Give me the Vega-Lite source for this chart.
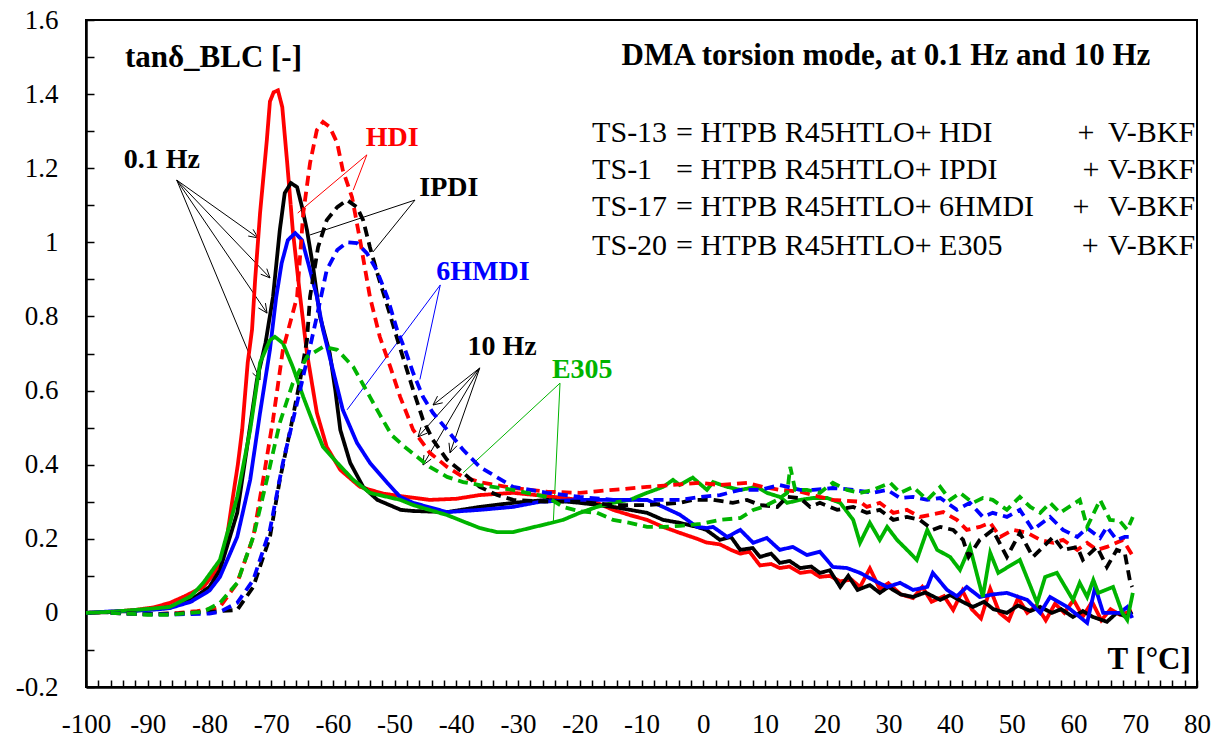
{
"$schema": "https://vega.github.io/schema/vega-lite/v6.json",
"width": 1111, "height": 667,
"autosize": {"type": "none"},
"padding": {"left": 86, "top": 20, "right": 28, "bottom": 58},
"background": "white",
"config": {"view": {"stroke": "black", "strokeWidth": 2}, "font": "Liberation Serif"},
"datasets": {
"curves": [
{"c":"HDI","f":"0.1 Hz","T":-100,"v":0},{"c":"HDI","f":"0.1 Hz","T":-96,"v":0.003},{"c":"HDI","f":"0.1 Hz","T":-92,"v":0.008},{"c":"HDI","f":"0.1 Hz","T":-89,"v":0.015},{"c":"HDI","f":"0.1 Hz","T":-86.4,"v":0.027},{"c":"HDI","f":"0.1 Hz","T":-84,"v":0.045},{"c":"HDI","f":"0.1 Hz","T":-81,"v":0.07},{"c":"HDI","f":"0.1 Hz","T":-79.5,"v":0.1},{"c":"HDI","f":"0.1 Hz","T":-78.3,"v":0.135},{"c":"HDI","f":"0.1 Hz","T":-77.2,"v":0.2},{"c":"HDI","f":"0.1 Hz","T":-76.2,"v":0.313},{"c":"HDI","f":"0.1 Hz","T":-75.4,"v":0.4},{"c":"HDI","f":"0.1 Hz","T":-74.7,"v":0.494},{"c":"HDI","f":"0.1 Hz","T":-73.8,"v":0.675},{"c":"HDI","f":"0.1 Hz","T":-73.1,"v":0.764},{"c":"HDI","f":"0.1 Hz","T":-72.6,"v":0.898},{"c":"HDI","f":"0.1 Hz","T":-71.8,"v":1.079},{"c":"HDI","f":"0.1 Hz","T":-70.7,"v":1.276},{"c":"HDI","f":"0.1 Hz","T":-70.2,"v":1.38},{"c":"HDI","f":"0.1 Hz","T":-69.6,"v":1.405},{"c":"HDI","f":"0.1 Hz","T":-68.9,"v":1.41},{"c":"HDI","f":"0.1 Hz","T":-68.2,"v":1.365},{"c":"HDI","f":"0.1 Hz","T":-67.4,"v":1.214},{"c":"HDI","f":"0.1 Hz","T":-66.5,"v":1.033},{"c":"HDI","f":"0.1 Hz","T":-65.3,"v":0.853},{"c":"HDI","f":"0.1 Hz","T":-64.2,"v":0.701},{"c":"HDI","f":"0.1 Hz","T":-62.6,"v":0.54},{"c":"HDI","f":"0.1 Hz","T":-61,"v":0.448},{"c":"HDI","f":"0.1 Hz","T":-58.8,"v":0.386},{"c":"HDI","f":"0.1 Hz","T":-55.6,"v":0.34},{"c":"HDI","f":"0.1 Hz","T":-51.9,"v":0.322},{"c":"HDI","f":"0.1 Hz","T":-49,"v":0.315},{"c":"HDI","f":"0.1 Hz","T":-44.3,"v":0.305},{"c":"HDI","f":"0.1 Hz","T":-40,"v":0.308},{"c":"HDI","f":"0.1 Hz","T":-36.2,"v":0.318},{"c":"HDI","f":"0.1 Hz","T":-30.8,"v":0.324},{"c":"HDI","f":"0.1 Hz","T":-25.3,"v":0.315},{"c":"HDI","f":"0.1 Hz","T":-20,"v":0.305},{"c":"HDI","f":"0.1 Hz","T":-17.2,"v":0.297},{"c":"HDI","f":"0.1 Hz","T":-14.6,"v":0.278},{"c":"HDI","f":"0.1 Hz","T":-11.9,"v":0.264},{"c":"HDI","f":"0.1 Hz","T":-9.1,"v":0.251},{"c":"HDI","f":"0.1 Hz","T":-6.5,"v":0.232},{"c":"HDI","f":"0.1 Hz","T":-3.8,"v":0.216},{"c":"HDI","f":"0.1 Hz","T":-1,"v":0.2},{"c":"HDI","f":"0.1 Hz","T":0.5,"v":0.19},{"c":"HDI","f":"0.1 Hz","T":2.7,"v":0.185},{"c":"HDI","f":"0.1 Hz","T":4.5,"v":0.17},{"c":"HDI","f":"0.1 Hz","T":6,"v":0.16},{"c":"HDI","f":"0.1 Hz","T":7.5,"v":0.165},{"c":"HDI","f":"0.1 Hz","T":9.2,"v":0.128},{"c":"HDI","f":"0.1 Hz","T":11,"v":0.132},{"c":"HDI","f":"0.1 Hz","T":12.4,"v":0.121},{"c":"HDI","f":"0.1 Hz","T":14,"v":0.125},{"c":"HDI","f":"0.1 Hz","T":15.7,"v":0.108},{"c":"HDI","f":"0.1 Hz","T":17.5,"v":0.112},{"c":"HDI","f":"0.1 Hz","T":18.9,"v":0.097},{"c":"HDI","f":"0.1 Hz","T":20.5,"v":0.1},{"c":"HDI","f":"0.1 Hz","T":22.2,"v":0.085},{"c":"HDI","f":"0.1 Hz","T":24,"v":0.09},{"c":"HDI","f":"0.1 Hz","T":25.4,"v":0.07},{"c":"HDI","f":"0.1 Hz","T":27,"v":0.12},{"c":"HDI","f":"0.1 Hz","T":28.6,"v":0.065},{"c":"HDI","f":"0.1 Hz","T":30,"v":0.08},{"c":"HDI","f":"0.1 Hz","T":32,"v":0.05},{"c":"HDI","f":"0.1 Hz","T":34,"v":0.04},{"c":"HDI","f":"0.1 Hz","T":35.5,"v":0.07},{"c":"HDI","f":"0.1 Hz","T":37,"v":0.03},{"c":"HDI","f":"0.1 Hz","T":39,"v":0.045},{"c":"HDI","f":"0.1 Hz","T":40.5,"v":0.008},{"c":"HDI","f":"0.1 Hz","T":42,"v":0.06},{"c":"HDI","f":"0.1 Hz","T":43.5,"v":0.01},{"c":"HDI","f":"0.1 Hz","T":45,"v":-0.015},{"c":"HDI","f":"0.1 Hz","T":46.5,"v":0.065},{"c":"HDI","f":"0.1 Hz","T":48,"v":0},{"c":"HDI","f":"0.1 Hz","T":49.5,"v":-0.02},{"c":"HDI","f":"0.1 Hz","T":51,"v":0.04},{"c":"HDI","f":"0.1 Hz","T":52.5,"v":0},{"c":"HDI","f":"0.1 Hz","T":54,"v":0.02},{"c":"HDI","f":"0.1 Hz","T":55.5,"v":-0.02},{"c":"HDI","f":"0.1 Hz","T":57,"v":0.025},{"c":"HDI","f":"0.1 Hz","T":58.5,"v":0},{"c":"HDI","f":"0.1 Hz","T":60,"v":0.035},{"c":"HDI","f":"0.1 Hz","T":61.5,"v":-0.01},{"c":"HDI","f":"0.1 Hz","T":63,"v":0.03},{"c":"HDI","f":"0.1 Hz","T":64.5,"v":-0.02},{"c":"HDI","f":"0.1 Hz","T":66,"v":0.01},{"c":"HDI","f":"0.1 Hz","T":67.5,"v":-0.005},{"c":"HDI","f":"0.1 Hz","T":69.5,"v":0.005},

{"c":"IPDI","f":"0.1 Hz","T":-100,"v":0},{"c":"IPDI","f":"0.1 Hz","T":-96,"v":0.002},{"c":"IPDI","f":"0.1 Hz","T":-92,"v":0.006},{"c":"IPDI","f":"0.1 Hz","T":-89,"v":0.01},{"c":"IPDI","f":"0.1 Hz","T":-86.4,"v":0.016},{"c":"IPDI","f":"0.1 Hz","T":-83,"v":0.035},{"c":"IPDI","f":"0.1 Hz","T":-80,"v":0.07},{"c":"IPDI","f":"0.1 Hz","T":-78.3,"v":0.116},{"c":"IPDI","f":"0.1 Hz","T":-75.5,"v":0.27},{"c":"IPDI","f":"0.1 Hz","T":-73.9,"v":0.448},{"c":"IPDI","f":"0.1 Hz","T":-72.3,"v":0.629},{"c":"IPDI","f":"0.1 Hz","T":-70.9,"v":0.73},{"c":"IPDI","f":"0.1 Hz","T":-69.7,"v":0.853},{"c":"IPDI","f":"0.1 Hz","T":-68.6,"v":1.033},{"c":"IPDI","f":"0.1 Hz","T":-67.8,"v":1.133},{"c":"IPDI","f":"0.1 Hz","T":-66.8,"v":1.16},{"c":"IPDI","f":"0.1 Hz","T":-65.8,"v":1.149},{"c":"IPDI","f":"0.1 Hz","T":-65,"v":1.095},{"c":"IPDI","f":"0.1 Hz","T":-64.2,"v":1.033},{"c":"IPDI","f":"0.1 Hz","T":-63.2,"v":0.933},{"c":"IPDI","f":"0.1 Hz","T":-62.1,"v":0.8},{"c":"IPDI","f":"0.1 Hz","T":-60.5,"v":0.7},{"c":"IPDI","f":"0.1 Hz","T":-59.6,"v":0.6},{"c":"IPDI","f":"0.1 Hz","T":-58.8,"v":0.494},{"c":"IPDI","f":"0.1 Hz","T":-57.2,"v":0.405},{"c":"IPDI","f":"0.1 Hz","T":-55.1,"v":0.34},{"c":"IPDI","f":"0.1 Hz","T":-52.8,"v":0.305},{"c":"IPDI","f":"0.1 Hz","T":-49,"v":0.278},{"c":"IPDI","f":"0.1 Hz","T":-47,"v":0.275},{"c":"IPDI","f":"0.1 Hz","T":-41.5,"v":0.272},{"c":"IPDI","f":"0.1 Hz","T":-36.2,"v":0.286},{"c":"IPDI","f":"0.1 Hz","T":-30.8,"v":0.297},{"c":"IPDI","f":"0.1 Hz","T":-25.3,"v":0.305},{"c":"IPDI","f":"0.1 Hz","T":-20,"v":0.297},{"c":"IPDI","f":"0.1 Hz","T":-14.6,"v":0.286},{"c":"IPDI","f":"0.1 Hz","T":-9.1,"v":0.27},{"c":"IPDI","f":"0.1 Hz","T":-6.5,"v":0.251},{"c":"IPDI","f":"0.1 Hz","T":-3.8,"v":0.243},{"c":"IPDI","f":"0.1 Hz","T":-1,"v":0.232},{"c":"IPDI","f":"0.1 Hz","T":0.5,"v":0.224},{"c":"IPDI","f":"0.1 Hz","T":2.7,"v":0.197},{"c":"IPDI","f":"0.1 Hz","T":4.5,"v":0.205},{"c":"IPDI","f":"0.1 Hz","T":6,"v":0.17},{"c":"IPDI","f":"0.1 Hz","T":8,"v":0.175},{"c":"IPDI","f":"0.1 Hz","T":9.2,"v":0.151},{"c":"IPDI","f":"0.1 Hz","T":11,"v":0.16},{"c":"IPDI","f":"0.1 Hz","T":12.4,"v":0.135},{"c":"IPDI","f":"0.1 Hz","T":14,"v":0.14},{"c":"IPDI","f":"0.1 Hz","T":15.7,"v":0.121},{"c":"IPDI","f":"0.1 Hz","T":17.5,"v":0.125},{"c":"IPDI","f":"0.1 Hz","T":18.9,"v":0.108},{"c":"IPDI","f":"0.1 Hz","T":20.5,"v":0.115},{"c":"IPDI","f":"0.1 Hz","T":22.2,"v":0.07},{"c":"IPDI","f":"0.1 Hz","T":23.5,"v":0.1},{"c":"IPDI","f":"0.1 Hz","T":25,"v":0.062},{"c":"IPDI","f":"0.1 Hz","T":27,"v":0.075},{"c":"IPDI","f":"0.1 Hz","T":28.6,"v":0.054},{"c":"IPDI","f":"0.1 Hz","T":30,"v":0.07},{"c":"IPDI","f":"0.1 Hz","T":32,"v":0.05},{"c":"IPDI","f":"0.1 Hz","T":34,"v":0.043},{"c":"IPDI","f":"0.1 Hz","T":36,"v":0.055},{"c":"IPDI","f":"0.1 Hz","T":38.4,"v":0.035},{"c":"IPDI","f":"0.1 Hz","T":40,"v":0.048},{"c":"IPDI","f":"0.1 Hz","T":42,"v":0.03},{"c":"IPDI","f":"0.1 Hz","T":43.7,"v":0.016},{"c":"IPDI","f":"0.1 Hz","T":45.5,"v":0.03},{"c":"IPDI","f":"0.1 Hz","T":47,"v":0.01},{"c":"IPDI","f":"0.1 Hz","T":49.2,"v":0},{"c":"IPDI","f":"0.1 Hz","T":51,"v":0.02},{"c":"IPDI","f":"0.1 Hz","T":53,"v":0.005},{"c":"IPDI","f":"0.1 Hz","T":54.6,"v":0.016},{"c":"IPDI","f":"0.1 Hz","T":56.5,"v":0},{"c":"IPDI","f":"0.1 Hz","T":58,"v":0.01},{"c":"IPDI","f":"0.1 Hz","T":59.9,"v":-0.011},{"c":"IPDI","f":"0.1 Hz","T":61.5,"v":0.005},{"c":"IPDI","f":"0.1 Hz","T":63,"v":-0.01},{"c":"IPDI","f":"0.1 Hz","T":65.4,"v":-0.024},{"c":"IPDI","f":"0.1 Hz","T":67,"v":0},{"c":"IPDI","f":"0.1 Hz","T":68.5,"v":-0.01},{"c":"IPDI","f":"0.1 Hz","T":69.5,"v":0.003},

{"c":"6HMDI","f":"0.1 Hz","T":-100,"v":0},{"c":"6HMDI","f":"0.1 Hz","T":-96,"v":0.004},{"c":"6HMDI","f":"0.1 Hz","T":-92,"v":0.006},{"c":"6HMDI","f":"0.1 Hz","T":-88,"v":0.01},{"c":"6HMDI","f":"0.1 Hz","T":-86.4,"v":0.013},{"c":"6HMDI","f":"0.1 Hz","T":-83,"v":0.03},{"c":"6HMDI","f":"0.1 Hz","T":-80,"v":0.06},{"c":"6HMDI","f":"0.1 Hz","T":-78.3,"v":0.097},{"c":"6HMDI","f":"0.1 Hz","T":-75.5,"v":0.205},{"c":"6HMDI","f":"0.1 Hz","T":-73.4,"v":0.359},{"c":"6HMDI","f":"0.1 Hz","T":-71.8,"v":0.54},{"c":"6HMDI","f":"0.1 Hz","T":-70.2,"v":0.71},{"c":"6HMDI","f":"0.1 Hz","T":-69.2,"v":0.85},{"c":"6HMDI","f":"0.1 Hz","T":-68.3,"v":0.944},{"c":"6HMDI","f":"0.1 Hz","T":-67.3,"v":1.006},{"c":"6HMDI","f":"0.1 Hz","T":-66.1,"v":1.025},{"c":"6HMDI","f":"0.1 Hz","T":-65,"v":1.006},{"c":"6HMDI","f":"0.1 Hz","T":-64,"v":0.944},{"c":"6HMDI","f":"0.1 Hz","T":-62.6,"v":0.853},{"c":"6HMDI","f":"0.1 Hz","T":-61.6,"v":0.764},{"c":"6HMDI","f":"0.1 Hz","T":-60,"v":0.656},{"c":"6HMDI","f":"0.1 Hz","T":-58.4,"v":0.548},{"c":"6HMDI","f":"0.1 Hz","T":-56.1,"v":0.459},{"c":"6HMDI","f":"0.1 Hz","T":-54,"v":0.405},{"c":"6HMDI","f":"0.1 Hz","T":-51.2,"v":0.351},{"c":"6HMDI","f":"0.1 Hz","T":-49.1,"v":0.313},{"c":"6HMDI","f":"0.1 Hz","T":-47,"v":0.297},{"c":"6HMDI","f":"0.1 Hz","T":-41.5,"v":0.272},{"c":"6HMDI","f":"0.1 Hz","T":-36.2,"v":0.278},{"c":"6HMDI","f":"0.1 Hz","T":-30.8,"v":0.286},{"c":"6HMDI","f":"0.1 Hz","T":-26.4,"v":0.3},{"c":"6HMDI","f":"0.1 Hz","T":-20,"v":0.305},{"c":"6HMDI","f":"0.1 Hz","T":-14.6,"v":0.305},{"c":"6HMDI","f":"0.1 Hz","T":-9.1,"v":0.305},{"c":"6HMDI","f":"0.1 Hz","T":-6.5,"v":0.286},{"c":"6HMDI","f":"0.1 Hz","T":-3.8,"v":0.265},{"c":"6HMDI","f":"0.1 Hz","T":-1,"v":0.232},{"c":"6HMDI","f":"0.1 Hz","T":0.6,"v":0.229},{"c":"6HMDI","f":"0.1 Hz","T":1.6,"v":0.232},{"c":"6HMDI","f":"0.1 Hz","T":3.9,"v":0.205},{"c":"6HMDI","f":"0.1 Hz","T":6,"v":0.224},{"c":"6HMDI","f":"0.1 Hz","T":8.1,"v":0.189},{"c":"6HMDI","f":"0.1 Hz","T":10.3,"v":0.202},{"c":"6HMDI","f":"0.1 Hz","T":12.4,"v":0.17},{"c":"6HMDI","f":"0.1 Hz","T":14.5,"v":0.178},{"c":"6HMDI","f":"0.1 Hz","T":16.8,"v":0.156},{"c":"6HMDI","f":"0.1 Hz","T":18.9,"v":0.165},{"c":"6HMDI","f":"0.1 Hz","T":21,"v":0.124},{"c":"6HMDI","f":"0.1 Hz","T":23.3,"v":0.121},{"c":"6HMDI","f":"0.1 Hz","T":25.4,"v":0.108},{"c":"6HMDI","f":"0.1 Hz","T":27.5,"v":0.089},{"c":"6HMDI","f":"0.1 Hz","T":29.8,"v":0.07},{"c":"6HMDI","f":"0.1 Hz","T":31.9,"v":0.081},{"c":"6HMDI","f":"0.1 Hz","T":34,"v":0.062},{"c":"6HMDI","f":"0.1 Hz","T":36.3,"v":0.07},{"c":"6HMDI","f":"0.1 Hz","T":37.2,"v":0.108},{"c":"6HMDI","f":"0.1 Hz","T":39.5,"v":0.062},{"c":"6HMDI","f":"0.1 Hz","T":41.1,"v":0.045},{"c":"6HMDI","f":"0.1 Hz","T":42.7,"v":0.07},{"c":"6HMDI","f":"0.1 Hz","T":44.8,"v":0.043},{"c":"6HMDI","f":"0.1 Hz","T":47,"v":0.05},{"c":"6HMDI","f":"0.1 Hz","T":49.2,"v":0.054},{"c":"6HMDI","f":"0.1 Hz","T":52.5,"v":0.035},{"c":"6HMDI","f":"0.1 Hz","T":54.6,"v":0},{"c":"6HMDI","f":"0.1 Hz","T":56.2,"v":0.043},{"c":"6HMDI","f":"0.1 Hz","T":59,"v":0.016},{"c":"6HMDI","f":"0.1 Hz","T":62.2,"v":-0.027},{"c":"6HMDI","f":"0.1 Hz","T":63.5,"v":0.07},{"c":"6HMDI","f":"0.1 Hz","T":64.8,"v":0},{"c":"6HMDI","f":"0.1 Hz","T":67.5,"v":0},{"c":"6HMDI","f":"0.1 Hz","T":68.7,"v":0.016},{"c":"6HMDI","f":"0.1 Hz","T":69.5,"v":-0.014},

{"c":"E305","f":"0.1 Hz","T":-100,"v":0},{"c":"E305","f":"0.1 Hz","T":-96,"v":0.003},{"c":"E305","f":"0.1 Hz","T":-92,"v":0.008},{"c":"E305","f":"0.1 Hz","T":-89,"v":0.012},{"c":"E305","f":"0.1 Hz","T":-86.4,"v":0.016},{"c":"E305","f":"0.1 Hz","T":-83,"v":0.045},{"c":"E305","f":"0.1 Hz","T":-81,"v":0.081},{"c":"E305","f":"0.1 Hz","T":-78.3,"v":0.143},{"c":"E305","f":"0.1 Hz","T":-75.5,"v":0.313},{"c":"E305","f":"0.1 Hz","T":-73.4,"v":0.494},{"c":"E305","f":"0.1 Hz","T":-71.8,"v":0.675},{"c":"E305","f":"0.1 Hz","T":-70.2,"v":0.736},{"c":"E305","f":"0.1 Hz","T":-69.4,"v":0.745},{"c":"E305","f":"0.1 Hz","T":-68.1,"v":0.728},{"c":"E305","f":"0.1 Hz","T":-66.5,"v":0.664},{"c":"E305","f":"0.1 Hz","T":-64.8,"v":0.583},{"c":"E305","f":"0.1 Hz","T":-63.2,"v":0.513},{"c":"E305","f":"0.1 Hz","T":-61.6,"v":0.448},{"c":"E305","f":"0.1 Hz","T":-59.3,"v":0.405},{"c":"E305","f":"0.1 Hz","T":-56.7,"v":0.359},{"c":"E305","f":"0.1 Hz","T":-54,"v":0.324},{"c":"E305","f":"0.1 Hz","T":-49.1,"v":0.305},{"c":"E305","f":"0.1 Hz","T":-47,"v":0.291},{"c":"E305","f":"0.1 Hz","T":-41.5,"v":0.264},{"c":"E305","f":"0.1 Hz","T":-36.2,"v":0.229},{"c":"E305","f":"0.1 Hz","T":-33.4,"v":0.218},{"c":"E305","f":"0.1 Hz","T":-30.8,"v":0.218},{"c":"E305","f":"0.1 Hz","T":-28.1,"v":0.229},{"c":"E305","f":"0.1 Hz","T":-25.3,"v":0.24},{"c":"E305","f":"0.1 Hz","T":-22.7,"v":0.251},{"c":"E305","f":"0.1 Hz","T":-20,"v":0.27},{"c":"E305","f":"0.1 Hz","T":-17.2,"v":0.286},{"c":"E305","f":"0.1 Hz","T":-14.6,"v":0.297},{"c":"E305","f":"0.1 Hz","T":-11.9,"v":0.305},{"c":"E305","f":"0.1 Hz","T":-9.1,"v":0.324},{"c":"E305","f":"0.1 Hz","T":-6.5,"v":0.34},{"c":"E305","f":"0.1 Hz","T":-4.9,"v":0.359},{"c":"E305","f":"0.1 Hz","T":-3.8,"v":0.345},{"c":"E305","f":"0.1 Hz","T":-1.7,"v":0.365},{"c":"E305","f":"0.1 Hz","T":0.6,"v":0.332},{"c":"E305","f":"0.1 Hz","T":1.6,"v":0.353},{"c":"E305","f":"0.1 Hz","T":3.9,"v":0.34},{"c":"E305","f":"0.1 Hz","T":6,"v":0.332},{"c":"E305","f":"0.1 Hz","T":8.7,"v":0.34},{"c":"E305","f":"0.1 Hz","T":10.3,"v":0.324},{"c":"E305","f":"0.1 Hz","T":12.4,"v":0.313},{"c":"E305","f":"0.1 Hz","T":13.6,"v":0.297},{"c":"E305","f":"0.1 Hz","T":15.7,"v":0.305},{"c":"E305","f":"0.1 Hz","T":17.8,"v":0.31},{"c":"E305","f":"0.1 Hz","T":20.1,"v":0.31},{"c":"E305","f":"0.1 Hz","T":22.2,"v":0.297},{"c":"E305","f":"0.1 Hz","T":24.3,"v":0.251},{"c":"E305","f":"0.1 Hz","T":25.4,"v":0.189},{"c":"E305","f":"0.1 Hz","T":27,"v":0.243},{"c":"E305","f":"0.1 Hz","T":28.6,"v":0.197},{"c":"E305","f":"0.1 Hz","T":29.8,"v":0.232},{"c":"E305","f":"0.1 Hz","T":31.4,"v":0.197},{"c":"E305","f":"0.1 Hz","T":33.5,"v":0.162},{"c":"E305","f":"0.1 Hz","T":34.6,"v":0.143},{"c":"E305","f":"0.1 Hz","T":36.3,"v":0.224},{"c":"E305","f":"0.1 Hz","T":37.9,"v":0.17},{"c":"E305","f":"0.1 Hz","T":40,"v":0.151},{"c":"E305","f":"0.1 Hz","T":41.6,"v":0.116},{"c":"E305","f":"0.1 Hz","T":43.2,"v":0.178},{"c":"E305","f":"0.1 Hz","T":45.3,"v":0.043},{"c":"E305","f":"0.1 Hz","T":46.5,"v":0.162},{"c":"E305","f":"0.1 Hz","T":47.8,"v":0.108},{"c":"E305","f":"0.1 Hz","T":51.3,"v":0.143},{"c":"E305","f":"0.1 Hz","T":54.1,"v":0.027},{"c":"E305","f":"0.1 Hz","T":55.4,"v":0.097},{"c":"E305","f":"0.1 Hz","T":57.3,"v":0.108},{"c":"E305","f":"0.1 Hz","T":59.9,"v":0.035},{"c":"E305","f":"0.1 Hz","T":61,"v":0.081},{"c":"E305","f":"0.1 Hz","T":62.2,"v":0.043},{"c":"E305","f":"0.1 Hz","T":63.2,"v":0.089},{"c":"E305","f":"0.1 Hz","T":64,"v":0.054},{"c":"E305","f":"0.1 Hz","T":66.4,"v":0.07},{"c":"E305","f":"0.1 Hz","T":67.9,"v":0},{"c":"E305","f":"0.1 Hz","T":68.7,"v":-0.019},{"c":"E305","f":"0.1 Hz","T":69.6,"v":0.054},

{"c":"HDI","f":"10 Hz","T":-96,"v":0},{"c":"HDI","f":"10 Hz","T":-92,"v":-0.003},{"c":"HDI","f":"10 Hz","T":-88,"v":-0.003},{"c":"HDI","f":"10 Hz","T":-85,"v":0},{"c":"HDI","f":"10 Hz","T":-82,"v":0.005},{"c":"HDI","f":"10 Hz","T":-80,"v":0.01},{"c":"HDI","f":"10 Hz","T":-78.3,"v":0.016},{"c":"HDI","f":"10 Hz","T":-75.5,"v":0.081},{"c":"HDI","f":"10 Hz","T":-72.9,"v":0.205},{"c":"HDI","f":"10 Hz","T":-71.3,"v":0.359},{"c":"HDI","f":"10 Hz","T":-69.7,"v":0.521},{"c":"HDI","f":"10 Hz","T":-68.1,"v":0.71},{"c":"HDI","f":"10 Hz","T":-65.8,"v":0.853},{"c":"HDI","f":"10 Hz","T":-64.8,"v":1.079},{"c":"HDI","f":"10 Hz","T":-63.7,"v":1.214},{"c":"HDI","f":"10 Hz","T":-62.6,"v":1.303},{"c":"HDI","f":"10 Hz","T":-61.6,"v":1.325},{"c":"HDI","f":"10 Hz","T":-60.5,"v":1.311},{"c":"HDI","f":"10 Hz","T":-59.3,"v":1.268},{"c":"HDI","f":"10 Hz","T":-58.4,"v":1.195},{"c":"HDI","f":"10 Hz","T":-56.9,"v":1.122},{"c":"HDI","f":"10 Hz","T":-55.6,"v":1.006},{"c":"HDI","f":"10 Hz","T":-54,"v":0.853},{"c":"HDI","f":"10 Hz","T":-52.4,"v":0.745},{"c":"HDI","f":"10 Hz","T":-50.7,"v":0.664},{"c":"HDI","f":"10 Hz","T":-49.1,"v":0.583},{"c":"HDI","f":"10 Hz","T":-47,"v":0.494},{"c":"HDI","f":"10 Hz","T":-44.3,"v":0.432},{"c":"HDI","f":"10 Hz","T":-41.5,"v":0.394},{"c":"HDI","f":"10 Hz","T":-38.9,"v":0.367},{"c":"HDI","f":"10 Hz","T":-36.2,"v":0.353},{"c":"HDI","f":"10 Hz","T":-30.8,"v":0.337},{"c":"HDI","f":"10 Hz","T":-25.3,"v":0.327},{"c":"HDI","f":"10 Hz","T":-20,"v":0.324},{"c":"HDI","f":"10 Hz","T":-14.6,"v":0.332},{"c":"HDI","f":"10 Hz","T":-9.1,"v":0.34},{"c":"HDI","f":"10 Hz","T":-3.8,"v":0.347},{"c":"HDI","f":"10 Hz","T":-0.5,"v":0.351},{"c":"HDI","f":"10 Hz","T":2.7,"v":0.345},{"c":"HDI","f":"10 Hz","T":7.1,"v":0.351},{"c":"HDI","f":"10 Hz","T":9.7,"v":0.34},{"c":"HDI","f":"10 Hz","T":12.4,"v":0.332},{"c":"HDI","f":"10 Hz","T":15.7,"v":0.327},{"c":"HDI","f":"10 Hz","T":18.9,"v":0.313},{"c":"HDI","f":"10 Hz","T":21,"v":0.305},{"c":"HDI","f":"10 Hz","T":25.4,"v":0.3},{"c":"HDI","f":"10 Hz","T":26.5,"v":0.286},{"c":"HDI","f":"10 Hz","T":28.6,"v":0.297},{"c":"HDI","f":"10 Hz","T":30.8,"v":0.27},{"c":"HDI","f":"10 Hz","T":33,"v":0.278},{"c":"HDI","f":"10 Hz","T":35.1,"v":0.259},{"c":"HDI","f":"10 Hz","T":38.9,"v":0.272},{"c":"HDI","f":"10 Hz","T":41.1,"v":0.251},{"c":"HDI","f":"10 Hz","T":42.7,"v":0.224},{"c":"HDI","f":"10 Hz","T":44.8,"v":0.232},{"c":"HDI","f":"10 Hz","T":46.5,"v":0.243},{"c":"HDI","f":"10 Hz","T":48.1,"v":0.205},{"c":"HDI","f":"10 Hz","T":50.2,"v":0.224},{"c":"HDI","f":"10 Hz","T":52.5,"v":0.216},{"c":"HDI","f":"10 Hz","T":54.6,"v":0.197},{"c":"HDI","f":"10 Hz","T":56.7,"v":0.189},{"c":"HDI","f":"10 Hz","T":58.3,"v":0.197},{"c":"HDI","f":"10 Hz","T":60.6,"v":0.17},{"c":"HDI","f":"10 Hz","T":62.2,"v":0.189},{"c":"HDI","f":"10 Hz","T":63.8,"v":0.17},{"c":"HDI","f":"10 Hz","T":65.4,"v":0.178},{"c":"HDI","f":"10 Hz","T":68,"v":0.197},{"c":"HDI","f":"10 Hz","T":69.5,"v":0.156},

{"c":"IPDI","f":"10 Hz","T":-96,"v":0},{"c":"IPDI","f":"10 Hz","T":-90,"v":-0.003},{"c":"IPDI","f":"10 Hz","T":-85,"v":-0.002},{"c":"IPDI","f":"10 Hz","T":-80,"v":0.003},{"c":"IPDI","f":"10 Hz","T":-75.5,"v":0.008},{"c":"IPDI","f":"10 Hz","T":-72.9,"v":0.07},{"c":"IPDI","f":"10 Hz","T":-70.2,"v":0.205},{"c":"IPDI","f":"10 Hz","T":-68.6,"v":0.359},{"c":"IPDI","f":"10 Hz","T":-66.9,"v":0.494},{"c":"IPDI","f":"10 Hz","T":-65.3,"v":0.629},{"c":"IPDI","f":"10 Hz","T":-64.2,"v":0.736},{"c":"IPDI","f":"10 Hz","T":-63.7,"v":0.853},{"c":"IPDI","f":"10 Hz","T":-62.4,"v":0.987},{"c":"IPDI","f":"10 Hz","T":-61,"v":1.06},{"c":"IPDI","f":"10 Hz","T":-59.3,"v":1.095},{"c":"IPDI","f":"10 Hz","T":-57.7,"v":1.114},{"c":"IPDI","f":"10 Hz","T":-56.1,"v":1.095},{"c":"IPDI","f":"10 Hz","T":-55.1,"v":1.06},{"c":"IPDI","f":"10 Hz","T":-54,"v":0.987},{"c":"IPDI","f":"10 Hz","T":-52.6,"v":0.905},{"c":"IPDI","f":"10 Hz","T":-51.2,"v":0.83},{"c":"IPDI","f":"10 Hz","T":-49.4,"v":0.73},{"c":"IPDI","f":"10 Hz","T":-47,"v":0.602},{"c":"IPDI","f":"10 Hz","T":-45.4,"v":0.521},{"c":"IPDI","f":"10 Hz","T":-43.8,"v":0.467},{"c":"IPDI","f":"10 Hz","T":-41.5,"v":0.413},{"c":"IPDI","f":"10 Hz","T":-38.9,"v":0.378},{"c":"IPDI","f":"10 Hz","T":-36.2,"v":0.34},{"c":"IPDI","f":"10 Hz","T":-33.4,"v":0.318},{"c":"IPDI","f":"10 Hz","T":-30.8,"v":0.305},{"c":"IPDI","f":"10 Hz","T":-25.3,"v":0.3},{"c":"IPDI","f":"10 Hz","T":-20,"v":0.3},{"c":"IPDI","f":"10 Hz","T":-14.6,"v":0.291},{"c":"IPDI","f":"10 Hz","T":-9.1,"v":0.291},{"c":"IPDI","f":"10 Hz","T":-3.8,"v":0.297},{"c":"IPDI","f":"10 Hz","T":-1.7,"v":0.305},{"c":"IPDI","f":"10 Hz","T":1.6,"v":0.305},{"c":"IPDI","f":"10 Hz","T":4.8,"v":0.297},{"c":"IPDI","f":"10 Hz","T":7.1,"v":0.305},{"c":"IPDI","f":"10 Hz","T":9.2,"v":0.291},{"c":"IPDI","f":"10 Hz","T":12,"v":0.286},{"c":"IPDI","f":"10 Hz","T":13.6,"v":0.313},{"c":"IPDI","f":"10 Hz","T":15.7,"v":0.31},{"c":"IPDI","f":"10 Hz","T":17.3,"v":0.286},{"c":"IPDI","f":"10 Hz","T":18.9,"v":0.297},{"c":"IPDI","f":"10 Hz","T":21.7,"v":0.278},{"c":"IPDI","f":"10 Hz","T":24.3,"v":0.286},{"c":"IPDI","f":"10 Hz","T":26.5,"v":0.27},{"c":"IPDI","f":"10 Hz","T":28.6,"v":0.278},{"c":"IPDI","f":"10 Hz","T":30.8,"v":0.251},{"c":"IPDI","f":"10 Hz","T":33,"v":0.259},{"c":"IPDI","f":"10 Hz","T":35.1,"v":0.251},{"c":"IPDI","f":"10 Hz","T":37.2,"v":0.224},{"c":"IPDI","f":"10 Hz","T":38.4,"v":0.232},{"c":"IPDI","f":"10 Hz","T":40.5,"v":0.224},{"c":"IPDI","f":"10 Hz","T":42.1,"v":0.197},{"c":"IPDI","f":"10 Hz","T":43,"v":0.151},{"c":"IPDI","f":"10 Hz","T":44.8,"v":0.197},{"c":"IPDI","f":"10 Hz","T":46.9,"v":0.224},{"c":"IPDI","f":"10 Hz","T":49.2,"v":0.151},{"c":"IPDI","f":"10 Hz","T":51.3,"v":0.216},{"c":"IPDI","f":"10 Hz","T":53.4,"v":0.151},{"c":"IPDI","f":"10 Hz","T":56.7,"v":0.205},{"c":"IPDI","f":"10 Hz","T":58.3,"v":0.17},{"c":"IPDI","f":"10 Hz","T":60.6,"v":0.178},{"c":"IPDI","f":"10 Hz","T":61.5,"v":0.143},{"c":"IPDI","f":"10 Hz","T":63.8,"v":0.178},{"c":"IPDI","f":"10 Hz","T":65.4,"v":0.124},{"c":"IPDI","f":"10 Hz","T":67,"v":0.17},{"c":"IPDI","f":"10 Hz","T":68.3,"v":0.162},{"c":"IPDI","f":"10 Hz","T":69.2,"v":0.081},{"c":"IPDI","f":"10 Hz","T":69.5,"v":0.07},

{"c":"6HMDI","f":"10 Hz","T":-96,"v":0},{"c":"6HMDI","f":"10 Hz","T":-90,"v":-0.004},{"c":"6HMDI","f":"10 Hz","T":-85,"v":-0.004},{"c":"6HMDI","f":"10 Hz","T":-80,"v":-0.002},{"c":"6HMDI","f":"10 Hz","T":-78.3,"v":0.003},{"c":"6HMDI","f":"10 Hz","T":-75.5,"v":0.027},{"c":"6HMDI","f":"10 Hz","T":-72.9,"v":0.089},{"c":"6HMDI","f":"10 Hz","T":-70.2,"v":0.224},{"c":"6HMDI","f":"10 Hz","T":-68.1,"v":0.405},{"c":"6HMDI","f":"10 Hz","T":-65.8,"v":0.567},{"c":"6HMDI","f":"10 Hz","T":-63.7,"v":0.718},{"c":"6HMDI","f":"10 Hz","T":-62.6,"v":0.8},{"c":"6HMDI","f":"10 Hz","T":-61,"v":0.925},{"c":"6HMDI","f":"10 Hz","T":-59.3,"v":0.979},{"c":"6HMDI","f":"10 Hz","T":-57.7,"v":1},{"c":"6HMDI","f":"10 Hz","T":-56.1,"v":0.998},{"c":"6HMDI","f":"10 Hz","T":-54.5,"v":0.971},{"c":"6HMDI","f":"10 Hz","T":-52.9,"v":0.925},{"c":"6HMDI","f":"10 Hz","T":-51.2,"v":0.853},{"c":"6HMDI","f":"10 Hz","T":-49.6,"v":0.764},{"c":"6HMDI","f":"10 Hz","T":-48.3,"v":0.71},{"c":"6HMDI","f":"10 Hz","T":-47,"v":0.648},{"c":"6HMDI","f":"10 Hz","T":-45.4,"v":0.583},{"c":"6HMDI","f":"10 Hz","T":-43.8,"v":0.54},{"c":"6HMDI","f":"10 Hz","T":-41.5,"v":0.494},{"c":"6HMDI","f":"10 Hz","T":-38.9,"v":0.44},{"c":"6HMDI","f":"10 Hz","T":-36.2,"v":0.394},{"c":"6HMDI","f":"10 Hz","T":-30.8,"v":0.34},{"c":"6HMDI","f":"10 Hz","T":-25.3,"v":0.324},{"c":"6HMDI","f":"10 Hz","T":-20,"v":0.313},{"c":"6HMDI","f":"10 Hz","T":-14.6,"v":0.305},{"c":"6HMDI","f":"10 Hz","T":-9.1,"v":0.305},{"c":"6HMDI","f":"10 Hz","T":-3.8,"v":0.305},{"c":"6HMDI","f":"10 Hz","T":-0.5,"v":0.313},{"c":"6HMDI","f":"10 Hz","T":2.7,"v":0.318},{"c":"6HMDI","f":"10 Hz","T":6,"v":0.332},{"c":"6HMDI","f":"10 Hz","T":9.2,"v":0.332},{"c":"6HMDI","f":"10 Hz","T":12.4,"v":0.345},{"c":"6HMDI","f":"10 Hz","T":15.7,"v":0.332},{"c":"6HMDI","f":"10 Hz","T":17.8,"v":0.332},{"c":"6HMDI","f":"10 Hz","T":21,"v":0.337},{"c":"6HMDI","f":"10 Hz","T":24.3,"v":0.332},{"c":"6HMDI","f":"10 Hz","T":27.5,"v":0.324},{"c":"6HMDI","f":"10 Hz","T":29.8,"v":0.332},{"c":"6HMDI","f":"10 Hz","T":31.9,"v":0.31},{"c":"6HMDI","f":"10 Hz","T":34,"v":0.313},{"c":"6HMDI","f":"10 Hz","T":36.3,"v":0.305},{"c":"6HMDI","f":"10 Hz","T":38.4,"v":0.31},{"c":"6HMDI","f":"10 Hz","T":41.1,"v":0.278},{"c":"6HMDI","f":"10 Hz","T":43.2,"v":0.297},{"c":"6HMDI","f":"10 Hz","T":45.3,"v":0.259},{"c":"6HMDI","f":"10 Hz","T":46.9,"v":0.27},{"c":"6HMDI","f":"10 Hz","T":49.2,"v":0.259},{"c":"6HMDI","f":"10 Hz","T":51.3,"v":0.278},{"c":"6HMDI","f":"10 Hz","T":53.4,"v":0.224},{"c":"6HMDI","f":"10 Hz","T":56.2,"v":0.259},{"c":"6HMDI","f":"10 Hz","T":58.3,"v":0.224},{"c":"6HMDI","f":"10 Hz","T":60.6,"v":0.205},{"c":"6HMDI","f":"10 Hz","T":62.2,"v":0.229},{"c":"6HMDI","f":"10 Hz","T":64.3,"v":0.202},{"c":"6HMDI","f":"10 Hz","T":65.4,"v":0.232},{"c":"6HMDI","f":"10 Hz","T":67,"v":0.197},{"c":"6HMDI","f":"10 Hz","T":68.3,"v":0.205},{"c":"6HMDI","f":"10 Hz","T":69.5,"v":0.205},

{"c":"E305","f":"10 Hz","T":-96,"v":0},{"c":"E305","f":"10 Hz","T":-90,"v":-0.005},{"c":"E305","f":"10 Hz","T":-86.4,"v":-0.005},{"c":"E305","f":"10 Hz","T":-81,"v":0.003},{"c":"E305","f":"10 Hz","T":-78.3,"v":0.027},{"c":"E305","f":"10 Hz","T":-75.5,"v":0.081},{"c":"E305","f":"10 Hz","T":-72.9,"v":0.205},{"c":"E305","f":"10 Hz","T":-70.7,"v":0.359},{"c":"E305","f":"10 Hz","T":-68.6,"v":0.513},{"c":"E305","f":"10 Hz","T":-66.5,"v":0.62},{"c":"E305","f":"10 Hz","T":-64.2,"v":0.691},{"c":"E305","f":"10 Hz","T":-61.6,"v":0.718},{"c":"E305","f":"10 Hz","T":-59.3,"v":0.71},{"c":"E305","f":"10 Hz","T":-56.7,"v":0.664},{"c":"E305","f":"10 Hz","T":-54,"v":0.583},{"c":"E305","f":"10 Hz","T":-52.4,"v":0.535},{"c":"E305","f":"10 Hz","T":-50.5,"v":0.48},{"c":"E305","f":"10 Hz","T":-48.5,"v":0.45},{"c":"E305","f":"10 Hz","T":-47,"v":0.43},{"c":"E305","f":"10 Hz","T":-44.3,"v":0.394},{"c":"E305","f":"10 Hz","T":-41.5,"v":0.367},{"c":"E305","f":"10 Hz","T":-38.9,"v":0.353},{"c":"E305","f":"10 Hz","T":-36.2,"v":0.345},{"c":"E305","f":"10 Hz","T":-30.8,"v":0.332},{"c":"E305","f":"10 Hz","T":-25.3,"v":0.313},{"c":"E305","f":"10 Hz","T":-22.7,"v":0.286},{"c":"E305","f":"10 Hz","T":-20,"v":0.274},{"c":"E305","f":"10 Hz","T":-17.2,"v":0.27},{"c":"E305","f":"10 Hz","T":-14.6,"v":0.251},{"c":"E305","f":"10 Hz","T":-11.9,"v":0.243},{"c":"E305","f":"10 Hz","T":-9.1,"v":0.232},{"c":"E305","f":"10 Hz","T":-6.5,"v":0.232},{"c":"E305","f":"10 Hz","T":-3.8,"v":0.235},{"c":"E305","f":"10 Hz","T":-0.5,"v":0.24},{"c":"E305","f":"10 Hz","T":2.7,"v":0.251},{"c":"E305","f":"10 Hz","T":6,"v":0.256},{"c":"E305","f":"10 Hz","T":8.1,"v":0.278},{"c":"E305","f":"10 Hz","T":9.7,"v":0.286},{"c":"E305","f":"10 Hz","T":12,"v":0.305},{"c":"E305","f":"10 Hz","T":13.6,"v":0.324},{"c":"E305","f":"10 Hz","T":14.1,"v":0.394},{"c":"E305","f":"10 Hz","T":14.9,"v":0.332},{"c":"E305","f":"10 Hz","T":16.8,"v":0.332},{"c":"E305","f":"10 Hz","T":18.9,"v":0.324},{"c":"E305","f":"10 Hz","T":21,"v":0.351},{"c":"E305","f":"10 Hz","T":23.3,"v":0.332},{"c":"E305","f":"10 Hz","T":25.4,"v":0.324},{"c":"E305","f":"10 Hz","T":27.5,"v":0.332},{"c":"E305","f":"10 Hz","T":30.3,"v":0.351},{"c":"E305","f":"10 Hz","T":31.9,"v":0.324},{"c":"E305","f":"10 Hz","T":34,"v":0.34},{"c":"E305","f":"10 Hz","T":36.3,"v":0.305},{"c":"E305","f":"10 Hz","T":38.4,"v":0.34},{"c":"E305","f":"10 Hz","T":40,"v":0.305},{"c":"E305","f":"10 Hz","T":41.6,"v":0.324},{"c":"E305","f":"10 Hz","T":43.7,"v":0.297},{"c":"E305","f":"10 Hz","T":45.3,"v":0.31},{"c":"E305","f":"10 Hz","T":46.9,"v":0.305},{"c":"E305","f":"10 Hz","T":49.2,"v":0.278},{"c":"E305","f":"10 Hz","T":51.3,"v":0.313},{"c":"E305","f":"10 Hz","T":53,"v":0.286},{"c":"E305","f":"10 Hz","T":54.6,"v":0.27},{"c":"E305","f":"10 Hz","T":56.2,"v":0.297},{"c":"E305","f":"10 Hz","T":57.8,"v":0.27},{"c":"E305","f":"10 Hz","T":61,"v":0.305},{"c":"E305","f":"10 Hz","T":62.2,"v":0.232},{"c":"E305","f":"10 Hz","T":64.3,"v":0.305},{"c":"E305","f":"10 Hz","T":65.9,"v":0.251},{"c":"E305","f":"10 Hz","T":67.5,"v":0.248},{"c":"E305","f":"10 Hz","T":68.7,"v":0.224},{"c":"E305","f":"10 Hz","T":69.6,"v":0.259}
],
"pointers": [
{"c":"none","T":-85.3,"v":1.168,"T2":-72.13,"v2":1.012},
{"c":"none","T":-85.3,"v":1.168,"T2":-70.19,"v2":0.904},
{"c":"none","T":-85.3,"v":1.168,"T2":-70.67,"v2":0.809},
{"c":"none","T":-85.3,"v":1.168,"T2":-71.81,"v2":0.629},
{"c":"none","T":-72.13,"v":1.012,"T2":-72.93,"v2":1.035},
{"c":"none","T":-72.13,"v":1.012,"T2":-73.72,"v2":1.017},
{"c":"none","T":-70.19,"v":0.904,"T2":-70.71,"v2":0.929},
{"c":"none","T":-70.19,"v":0.904,"T2":-71.69,"v2":0.914},
{"c":"none","T":-70.67,"v":0.809,"T2":-70.93,"v2":0.836},
{"c":"none","T":-70.67,"v":0.809,"T2":-72.07,"v2":0.823},
{"c":"none","T":-71.81,"v":0.629,"T2":-71.74,"v2":0.656},
{"c":"none","T":-71.81,"v":0.629,"T2":-73.01,"v2":0.647},
{"c":"HDI","T":-54.5,"v":1.236,"T2":-65.7,"v2":1.079},
{"c":"HDI","T":-54.5,"v":1.236,"T2":-56.7,"v2":1.141},
{"c":"IPDI","T":-46.7,"v":1.114,"T2":-63.7,"v2":1.02},
{"c":"IPDI","T":-46.7,"v":1.114,"T2":-53.5,"v2":0.974},
{"c":"6HMDI","T":-42.6,"v":0.885,"T2":-57.7,"v2":0.548},
{"c":"6HMDI","T":-42.6,"v":0.885,"T2":-45.9,"v2":0.63},
{"c":"none","T":-36.2,"v":0.661,"T2":-43.78,"v2":0.561},
{"c":"none","T":-36.2,"v":0.661,"T2":-46.21,"v2":0.475},
{"c":"none","T":-36.2,"v":0.661,"T2":-41.02,"v2":0.432},
{"c":"none","T":-36.2,"v":0.661,"T2":-45.4,"v2":0.399},
{"c":"none","T":-43.78,"v":0.561,"T2":-42.21,"v2":0.567},
{"c":"none","T":-43.78,"v":0.561,"T2":-43.05,"v2":0.585},
{"c":"none","T":-46.21,"v":0.475,"T2":-44.72,"v2":0.485},
{"c":"none","T":-46.21,"v":0.475,"T2":-45.74,"v2":0.501},
{"c":"none","T":-41.02,"v":0.432,"T2":-39.89,"v2":0.451},
{"c":"none","T":-41.02,"v":0.432,"T2":-41.19,"v2":0.459},
{"c":"none","T":-45.4,"v":0.399,"T2":-44.07,"v2":0.415},
{"c":"none","T":-45.4,"v":0.399,"T2":-45.25,"v2":0.426},
{"c":"E305","T":-23.2,"v":0.62,"T2":-38.9,"v2":0.378},
{"c":"E305","T":-23.2,"v":0.62,"T2":-24.3,"v2":0.24}
],
"labels": [
{"c":"none","T":-87.7,"v":1.222,"text":"0.1 Hz"},
{"c":"HDI","T":-50.4,"v":1.282,"text":"HDI"},
{"c":"IPDI","T":-41.2,"v":1.147,"text":"IPDI"},
{"c":"6HMDI","T":-35.7,"v":0.92,"text":"6HMDI"},
{"c":"none","T":-32.6,"v":0.718,"text":"10 Hz"},
{"c":"E305","T":-19.6,"v":0.656,"text":"E305"}
],
"title": [{"T":29.6,"v":1.503,"text":"DMA torsion mode, at 0.1 Hz and 10 Hz"}],
"boldl": [{"T":-93.7,"v":1.497,"text":"tanδ_BLC [-]"}],
"boldr": [{"T":79,"v":-0.127,"text":"T [°C]"}],
"legl": [
{"T":-18,"v":1.295,"text":"TS-13"},
{"T":-18,"v":1.195,"text":"TS-1"},
{"T":-18,"v":1.095,"text":"TS-17"},
{"T":-18,"v":0.99,"text":"TS-20"},
{"T":-4.4,"v":1.295,"text":"= HTPB R45HTLO+ HDI"},
{"T":-4.4,"v":1.195,"text":"= HTPB R45HTLO+ IPDI"},
{"T":-4.4,"v":1.095,"text":"= HTPB R45HTLO+ 6HMDI"},
{"T":-4.4,"v":0.99,"text":"= HTPB R45HTLO+ E305"}
],
"legr": [
{"T":79.7,"v":1.295,"text":"V-BKF"},
{"T":79.7,"v":1.195,"text":"V-BKF"},
{"T":79.7,"v":1.095,"text":"V-BKF"},
{"T":79.7,"v":0.99,"text":"V-BKF"}
],
"legc": [
{"T":62,"v":1.295,"text":"+"},
{"T":62.8,"v":1.195,"text":"+"},
{"T":61.2,"v":1.095,"text":"+"},
{"T":62.7,"v":0.99,"text":"+"}
]
},
"encoding": {
"x": {"field": "T", "type": "quantitative", "scale": {"domain": [-100, 80], "nice": false, "zero": false},
 "axis": {"title": null, "grid": false, "orient": "bottom",
  "values": [-100,-98,-96,-94,-92,-90,-88,-86,-84,-82,-80,-78,-76,-74,-72,-70,-68,-66,-64,-62,-60,-58,-56,-54,-52,-50,-48,-46,-44,-42,-40,-38,-36,-34,-32,-30,-28,-26,-24,-22,-20,-18,-16,-14,-12,-10,-8,-6,-4,-2,0,2,4,6,8,10,12,14,16,18,20,22,24,26,28,30,32,34,36,38,40,42,44,46,48,50,52,54,56,58,60,62,64,66,68,70,72,74,76,78,80],
  "labelExpr": "datum.value % 10 === 0 ? '' + datum.value : ''",
  "labelOverlap": false, "labelFlush": false, "labelFont": "Liberation Serif", "labelFontSize": 27, "labelColor": "black",
  "tickSize": -7, "labelPadding": 31, "tickColor": "black", "tickWidth": 1.5, "domainColor": "black", "domainWidth": 2.5}},
"y": {"field": "v", "type": "quantitative", "scale": {"domain": [-0.2, 1.6], "nice": false, "zero": false},
 "axis": {"title": null, "grid": false, "orient": "left",
  "values": [-0.2,-0.1,0,0.1,0.2,0.3,0.4,0.5,0.6,0.7,0.8,0.9,1,1.1,1.2,1.3,1.4,1.5,1.6],
  "labelExpr": "abs(round(datum.value*10)) % 2 === 0 ? '' + round(datum.value*10)/10 : ''",
  "labelOverlap": false, "labelFlush": false, "labelFont": "Liberation Serif", "labelFontSize": 27, "labelColor": "black",
  "tickSize": -8, "labelPadding": 36, "tickColor": "black", "tickWidth": 1.5, "domainColor": "black", "domainWidth": 2.5}}
},
"layer": [
{"data": {"name": "pointers"}, "mark": {"type": "rule", "strokeWidth": 1},
 "encoding": {"x2": {"field": "T2"}, "y2": {"field": "v2"},
  "color": {"field": "c", "type": "nominal", "legend": null, "scale": {"domain": ["HDI","IPDI","6HMDI","E305","none"], "range": ["#ff0000","#000000","#0000ff","#00b400","#000000"]}}}},
{"data": {"name": "curves"}, "mark": {"type": "line", "strokeWidth": 3.8, "clip": true},
 "encoding": {
  "color": {"field": "c", "type": "nominal", "legend": null, "scale": {"domain": ["HDI","IPDI","6HMDI","E305","none"], "range": ["#ff0000","#000000","#0000ff","#00b400","#000000"]}},
  "strokeDash": {"field": "f", "type": "nominal", "legend": null, "scale": {"domain": ["0.1 Hz","10 Hz"], "range": [[1,0],[10,6]]}}}},
{"data": {"name": "labels"}, "mark": {"type": "text", "font": "Liberation Serif", "fontWeight": "bold", "fontSize": 28, "align": "center", "baseline": "middle"},
 "encoding": {"text": {"field": "text"}, "color": {"field": "c", "type": "nominal", "legend": null, "scale": {"domain": ["HDI","IPDI","6HMDI","E305","none"], "range": ["#ff0000","#000000","#0000ff","#00b400","#000000"]}}}},
{"data": {"name": "title"}, "mark": {"type": "text", "font": "Liberation Serif", "fontWeight": "bold", "fontSize": 31, "align": "center", "baseline": "middle", "color": "black"},
 "encoding": {"text": {"field": "text"}}},
{"data": {"name": "boldl"}, "mark": {"type": "text", "font": "Liberation Serif", "fontWeight": "bold", "fontSize": 31, "align": "left", "baseline": "middle", "color": "black"},
 "encoding": {"text": {"field": "text"}}},
{"data": {"name": "boldr"}, "mark": {"type": "text", "font": "Liberation Serif", "fontWeight": "bold", "fontSize": 31, "align": "right", "baseline": "middle", "color": "black"},
 "encoding": {"text": {"field": "text"}}},
{"data": {"name": "legl"}, "mark": {"type": "text", "font": "Liberation Serif", "fontSize": 30, "align": "left", "baseline": "middle", "color": "black"},
 "encoding": {"text": {"field": "text"}}},
{"data": {"name": "legr"}, "mark": {"type": "text", "font": "Liberation Serif", "fontSize": 30, "align": "right", "baseline": "middle", "color": "black"},
 "encoding": {"text": {"field": "text"}}},
{"data": {"name": "legc"}, "mark": {"type": "text", "font": "Liberation Serif", "fontSize": 30, "align": "center", "baseline": "middle", "color": "black"},
 "encoding": {"text": {"field": "text"}}}
]
}
